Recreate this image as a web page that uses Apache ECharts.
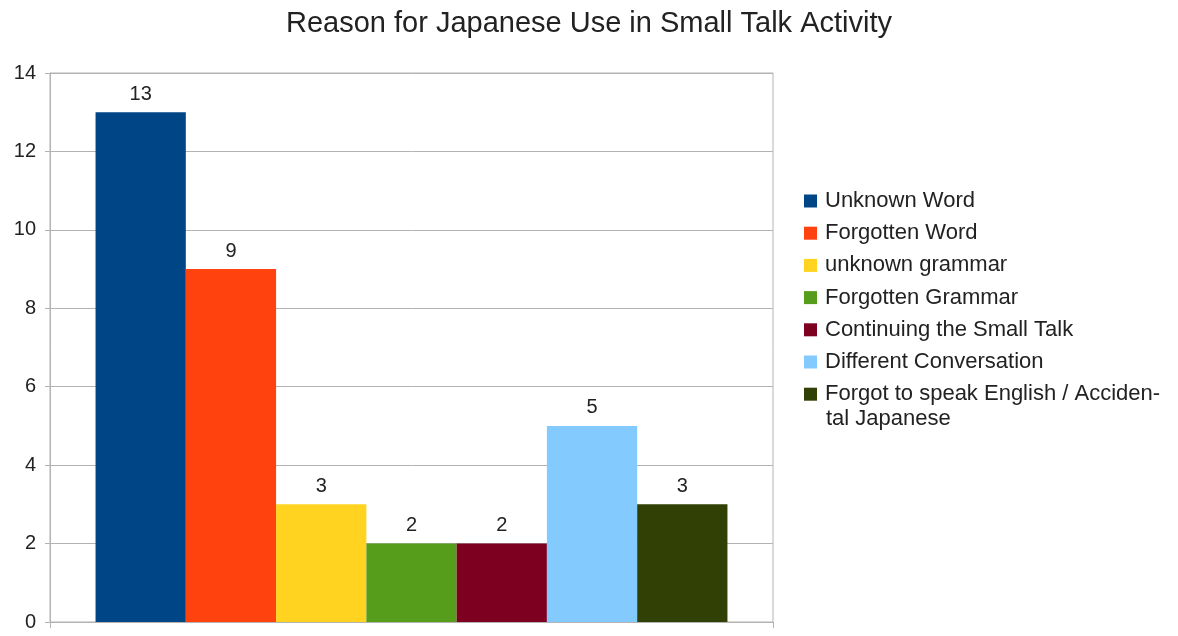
<!DOCTYPE html>
<html>
<head>
<meta charset="utf-8">
<script src="https://cdn.jsdelivr.net/npm/echarts@6/dist/echarts.min.js"></script>
<style>
  html, body { margin: 0; padding: 0; background: #ffffff; }
  #chart { width: 1178px; height: 636px; }
</style>
</head>
<body>
<div id="chart"></div>
<script>
// Reasons given for switching to Japanese during the small talk activity
const reasons = [
  'Unknown Word',
  'Forgotten Word',
  'unknown grammar',
  'Forgotten Grammar',
  'Continuing the Small Talk',
  'Different Conversation',
  'Forgot to speak English / Accidental Japanese'
];
const counts = [13, 9, 3, 2, 2, 5, 3];
const colors = ['#004586', '#ff420e', '#ffd320', '#579d1c', '#7e0021', '#83caff', '#314004'];
const yTicks = { min: 0, max: 14, interval: 2 };

// The long legend entry is hyphenated over two lines
const longLabelFirst = 'Forgot to speak English / Acciden-';
const longLabelRest = 'tal Japanese';

const FONT = '"Liberation Sans", Arial, sans-serif';
const LEGEND_LEFT = 799;
const LEGEND_TOP = 185;
const LEGEND_STEP = 32.2;

const chart = echarts.init(document.getElementById('chart'), null, { renderer: 'canvas' });

function legendLabel(name) {
  return name === reasons[6] ? longLabelFirst : name;
}

const series = reasons.map((name, i) => ({
  name: name,
  type: 'bar',
  data: [counts[i]],
  barGap: '0%',
  barCategoryGap: '12.6%',
  itemStyle: { color: colors[i] },
  label: {
    show: true,
    position: 'top',
    distance: 8,
    fontFamily: FONT,
    fontSize: 20,
    color: '#222'
  }
}));

chart.setOption({
  animation: false,
  backgroundColor: '#ffffff',
  title: {
    text: 'Reason for Japanese Use in Small Talk Activity',
    left: 'center',
    top: 4,
    textStyle: { fontFamily: FONT, fontSize: 29, fontWeight: 'normal', color: '#222' }
  },
  legend: {
    orient: 'vertical',
    left: LEGEND_LEFT,
    top: LEGEND_TOP,
    itemWidth: 13,
    itemHeight: 13,
    itemGap: LEGEND_STEP - 22,
    icon: 'rect',
    formatter: legendLabel,
    textStyle: { fontFamily: FONT, fontSize: 22, lineHeight: 22, color: '#222', padding: [0, 0, 0, 3] },
    data: reasons
  },
  graphic: [{
    type: 'text',
    left: 826,
    top: LEGEND_TOP + 5 + 6 * LEGEND_STEP + 6 + 30 - 11,
    style: { text: longLabelRest, fontFamily: FONT, fontSize: 22, lineHeight: 22, fill: '#222' }
  }],
  grid: {
    left: 50,
    top: 73,
    right: 405,
    bottom: 14,
    show: true,
    borderColor: '#b3b3b3',
    borderWidth: 1
  },
  xAxis: {
    type: 'category',
    data: [''],
    axisLine: { show: true, lineStyle: { color: '#b3b3b3' } },
    axisTick: { show: true, length: 6, lineStyle: { color: '#b3b3b3' } },
    axisLabel: { show: false }
  },
  yAxis: {
    type: 'value',
    min: yTicks.min,
    max: yTicks.max,
    interval: yTicks.interval,
    axisLine: { show: true, lineStyle: { color: '#b3b3b3' } },
    axisTick: { show: true, length: 5, lineStyle: { color: '#b3b3b3' } },
    splitLine: { show: true, lineStyle: { color: '#b3b3b3' } },
    axisLabel: { margin: 14, fontFamily: FONT, fontSize: 20, color: '#222' }
  },
  series: series
});
</script>
</body>
</html>
